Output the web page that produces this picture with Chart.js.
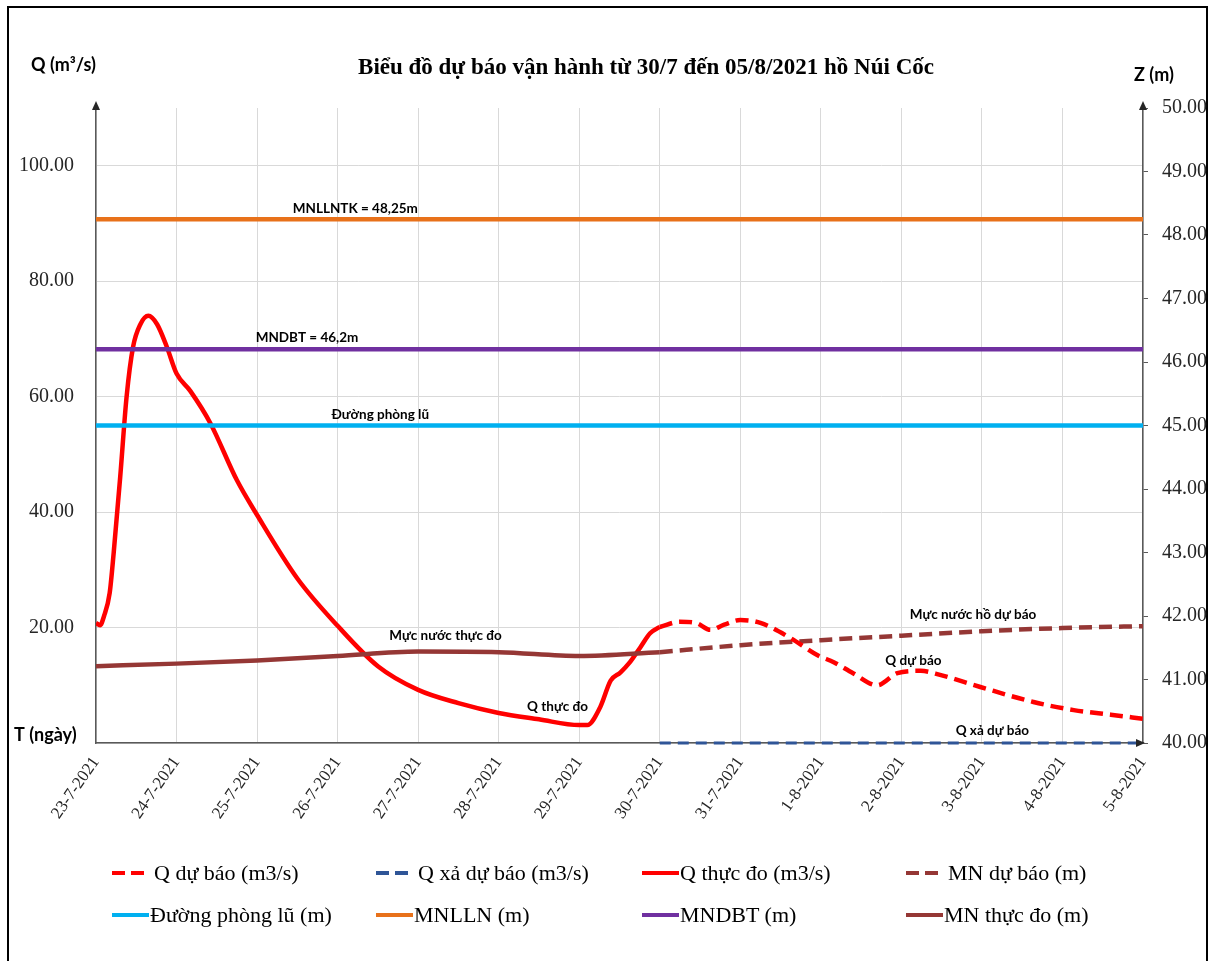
<!DOCTYPE html>
<html>
<head>
<meta charset="utf-8">
<script src="https://cdn.jsdelivr.net/npm/chart.js@4.4.1/dist/chart.umd.min.js"></script>
<style>
  body { margin: 0; background: #fff; }
  #wrap { position: relative; width: 1215px; height: 961px; overflow: hidden; }
  #frame { position: absolute; left: 7px; top: 6px; width: 1201px; height: 1000px; border: 2px solid #000; box-sizing: border-box; }
  canvas { position: absolute; left: 0; top: 0; }
  .sym { position: absolute; height: 4px; }
  .lgt { position: absolute; font: 22px "Liberation Serif"; color: #000; white-space: nowrap; line-height: 24px; }
</style>
</head>
<body>
<div id="wrap">
  <div id="frame"></div>
  <canvas id="chart" width="1215" height="961"></canvas>
  <div id="legend"></div>
</div>
<script>
// x axis: one tick per day, 23-7 -> 5-8
const dateLabels = ['23-7-2021', '24-7-2021', '25-7-2021', '26-7-2021', '27-7-2021', '28-7-2021', '29-7-2021',
  '30-7-2021', '31-7-2021', '1-8-2021', '2-8-2021', '3-8-2021', '4-8-2021', '5-8-2021'];

// Q thuc do (m3/s), x in days from 23-7
const qObsDay = [0, 0.05, 0.1, 0.17, 0.22, 0.3, 0.38, 0.46, 0.55, 0.65, 0.76, 0.88, 1.0, 1.17, 1.42, 1.75, 2.0, 2.5,
  3.0, 3.5, 4.0, 4.5, 5.0, 5.5, 6.0, 6.1, 6.26, 6.39, 6.51, 6.63, 6.76, 6.88, 7.0];
const qObs = [20.8, 20.4, 22, 26, 33, 46, 60, 68.6, 72.5, 74, 72.5, 68.6, 64, 61, 55.4, 45.5, 39.5, 28.5,
  20.3, 13.3, 9.2, 6.9, 5.2, 4.1, 3.1, 3.1, 6.2, 10.8, 12.2, 14, 16.6, 19, 20.1];

// Q du bao (m3/s)
const qFcDay = [7.0, 7.25, 7.45, 7.63, 7.8, 8.0, 8.25, 8.62, 8.96, 9.16, 9.4, 9.7, 9.95, 10.24, 10.48, 10.98, 11.64, 12.14, 12.6, 13.0];
const qFc = [20.1, 21, 20.8, 19.6, 20.5, 21.3, 20.8, 18.2, 15.2, 14, 12.1, 10, 12.1, 12.5, 11.8, 9.7, 7.1, 5.7, 4.9, 4.2];

// Q xa du bao (m3/s)
const qSpillDay = [7, 13];
const qSpill = [0, 0];

// muc nuoc ho (m)
const mnObsDay = [0, 1, 2, 3, 4, 5, 6, 7];
const mnObs = [41.21, 41.25, 41.30, 41.37, 41.44, 41.43, 41.37, 41.43];
const mnFcDay = [7, 8, 9, 10, 11, 12, 13];
const mnFc = [41.43, 41.54, 41.62, 41.69, 41.76, 41.81, 41.84];

// cac muc nuoc dac trung (m)
const levelDay = [0, 13];
const floodLevel = [45, 45];
const designLevel = [48.25, 48.25];
const normalLevel = [46.2, 46.2];

const pts = (xs, ys) => xs.map((x, i) => ({ x: x, y: ys[i] }));

const datasets = [
  { label: 'Q dự báo (m3/s)', data: pts(qFcDay, qFc), yAxisID: 'y', borderColor: '#FF0000', borderWidth: 4.5, borderDash: [13, 7], order: 3 },
  { label: 'Q xả dự báo (m3/s)', data: pts(qSpillDay, qSpill), yAxisID: 'y', borderColor: '#2F5597', borderWidth: 3, borderDash: [11, 7], order: 2, clip: false },
  { label: 'Q thực đo (m3/s)', data: pts(qObsDay, qObs), yAxisID: 'y', borderColor: '#FF0000', borderWidth: 4.5, order: 5 },
  { label: 'MN dự báo (m)', data: pts(mnFcDay, mnFc), yAxisID: 'y2', borderColor: '#953735', borderWidth: 4.5, borderDash: [13, 7], order: 4 },
  { label: 'Đường phòng lũ (m)', data: pts(levelDay, floodLevel), yAxisID: 'y2', borderColor: '#00B0F0', borderWidth: 4.5, order: 1 },
  { label: 'MNLLN (m)', data: pts(levelDay, designLevel), yAxisID: 'y2', borderColor: '#E8711A', borderWidth: 4.5, order: 1 },
  { label: 'MNDBT (m)', data: pts(levelDay, normalLevel), yAxisID: 'y2', borderColor: '#7030A0', borderWidth: 4.5, order: 1 },
  { label: 'MN thực đo (m)', data: pts(mnObsDay, mnObs), yAxisID: 'y2', borderColor: '#953735', borderWidth: 4.5, order: 4 }
];

// text written on the plot, placed in data units (x: day, y: right axis m)
const notes = [
  { text: 'MNLLNTK = 48,25m', x: 3.22, y: 48.41 },
  { text: 'MNDBT = 46,2m', x: 2.62, y: 46.39 },
  { text: 'Đường phòng lũ', x: 3.53, y: 45.17 },
  { text: 'Mực nước thực đo', x: 4.34, y: 41.69 },
  { text: 'Q thực đo', x: 5.73, y: 40.57 },
  { text: 'Mực nước hồ dự báo', x: 10.89, y: 42.02 },
  { text: 'Q dự báo', x: 10.15, y: 41.29 },
  { text: 'Q xả dự báo', x: 11.13, y: 40.19 }
];

// titles, arrow heads and notes
const decorations = {
  id: 'decorations',
  afterDraw(chart) {
    const ctx = chart.ctx;
    const area = chart.chartArea;
    const x = chart.scales.x, y2 = chart.scales.y2;
    ctx.save();

    ctx.fillStyle = '#000';
    ctx.textAlign = 'center';
    ctx.textBaseline = 'middle';
    ctx.font = 'bold 23px "Liberation Serif"';
    ctx.fillText('Biểu đồ dự báo vận hành từ 30/7 đến 05/8/2021 hồ Núi Cốc', 646, 68);

    ctx.font = 'bold 18px Lato';
    ctx.textAlign = 'left';
    ctx.fillText('Q (m³/s)', 31, 65);
    ctx.fillText('Z (m)', 1134, 75);
    ctx.fillText('T (ngày)', 14, 735);

    ctx.font = 'bold 13.5px Lato';
    ctx.textAlign = 'center';
    notes.forEach(n => ctx.fillText(n.text, x.getPixelForValue(n.x), y2.getPixelForValue(n.y)));

    // arrow heads on the axes
    ctx.fillStyle = '#262626';
    const up = (px, py) => {
      ctx.beginPath();
      ctx.moveTo(px, py - 7);
      ctx.lineTo(px - 4, py + 2);
      ctx.lineTo(px + 4, py + 2);
      ctx.closePath();
      ctx.fill();
    };
    up(area.left, area.top);
    up(area.right, area.top);
    ctx.beginPath();
    ctx.moveTo(area.right + 2, area.bottom);
    ctx.lineTo(area.right - 7, area.bottom - 4);
    ctx.lineTo(area.right - 7, area.bottom + 4);
    ctx.closePath();
    ctx.fill();
    ctx.restore();
  }
};

const tickFont = { family: 'Liberation Serif', size: 20 };

new Chart(document.getElementById('chart').getContext('2d'), {
  type: 'line',
  data: { datasets: datasets },
  options: {
    responsive: false,
    animation: false,
    layout: { padding: { top: 108, left: 0, right: 0, bottom: 0 } },
    elements: { point: { radius: 0 }, line: { cubicInterpolationMode: 'monotone', fill: false } },
    plugins: { legend: { display: false }, tooltip: { enabled: false } },
    scales: {
      x: {
        type: 'linear', min: 0, max: 13,
        ticks: {
          stepSize: 1, autoSkip: false, minRotation: 55, maxRotation: 55, padding: 10,
          font: { family: 'Liberation Serif', size: 17 }, color: '#262626',
          callback: v => dateLabels[v]
        },
        grid: { color: '#d9d9d9', drawTicks: false },
        border: { color: '#595959', width: 1.5 },
        afterFit: s => { s.height = 961 - 743; }
      },
      y: {
        position: 'left', min: 0, max: 110,
        ticks: {
          stepSize: 20, includeBounds: false, padding: 22, font: tickFont, color: '#262626',
          callback: v => v === 0 ? '' : v.toFixed(2)
        },
        grid: { color: '#d9d9d9', drawTicks: false },
        border: { color: '#595959', width: 1.5 },
        afterFit: s => { s.width = 96; }
      },
      y2: {
        position: 'right', min: 40, max: 50,
        ticks: { stepSize: 1, padding: 14, font: tickFont, color: '#262626', callback: v => v.toFixed(2) },
        grid: { drawOnChartArea: false, tickLength: 5, tickColor: '#595959' },
        border: { color: '#595959', width: 1.5 },
        afterFit: s => { s.width = 1215 - 1143; }
      }
    }
  },
  plugins: [decorations]
});

// legend laid out in two rows of four, like the original
const legendCols = [112, 376, 642, 906];
const legendRows = [873, 915];
const legend = document.getElementById('legend');
datasets.forEach((ds, i) => {
  const col = legendCols[i % 4], row = legendRows[Math.floor(i / 4)];
  const sym = document.createElement('div');
  sym.className = 'sym';
  const dashed = !!ds.borderDash;
  sym.style.left = col + 'px';
  sym.style.top = (row - 2) + 'px';
  sym.style.width = (dashed ? 32 : 37) + 'px';
  sym.style.background = dashed
    ? 'repeating-linear-gradient(90deg,' + ds.borderColor + ' 0 13px, transparent 13px 19px)'
    : ds.borderColor;
  legend.appendChild(sym);
  const t = document.createElement('div');
  t.className = 'lgt';
  t.textContent = ds.label;
  t.style.left = (col + (dashed ? 42 : 38)) + 'px';
  t.style.top = (row - 12) + 'px';
  legend.appendChild(t);
});
</script>
</body>
</html>
